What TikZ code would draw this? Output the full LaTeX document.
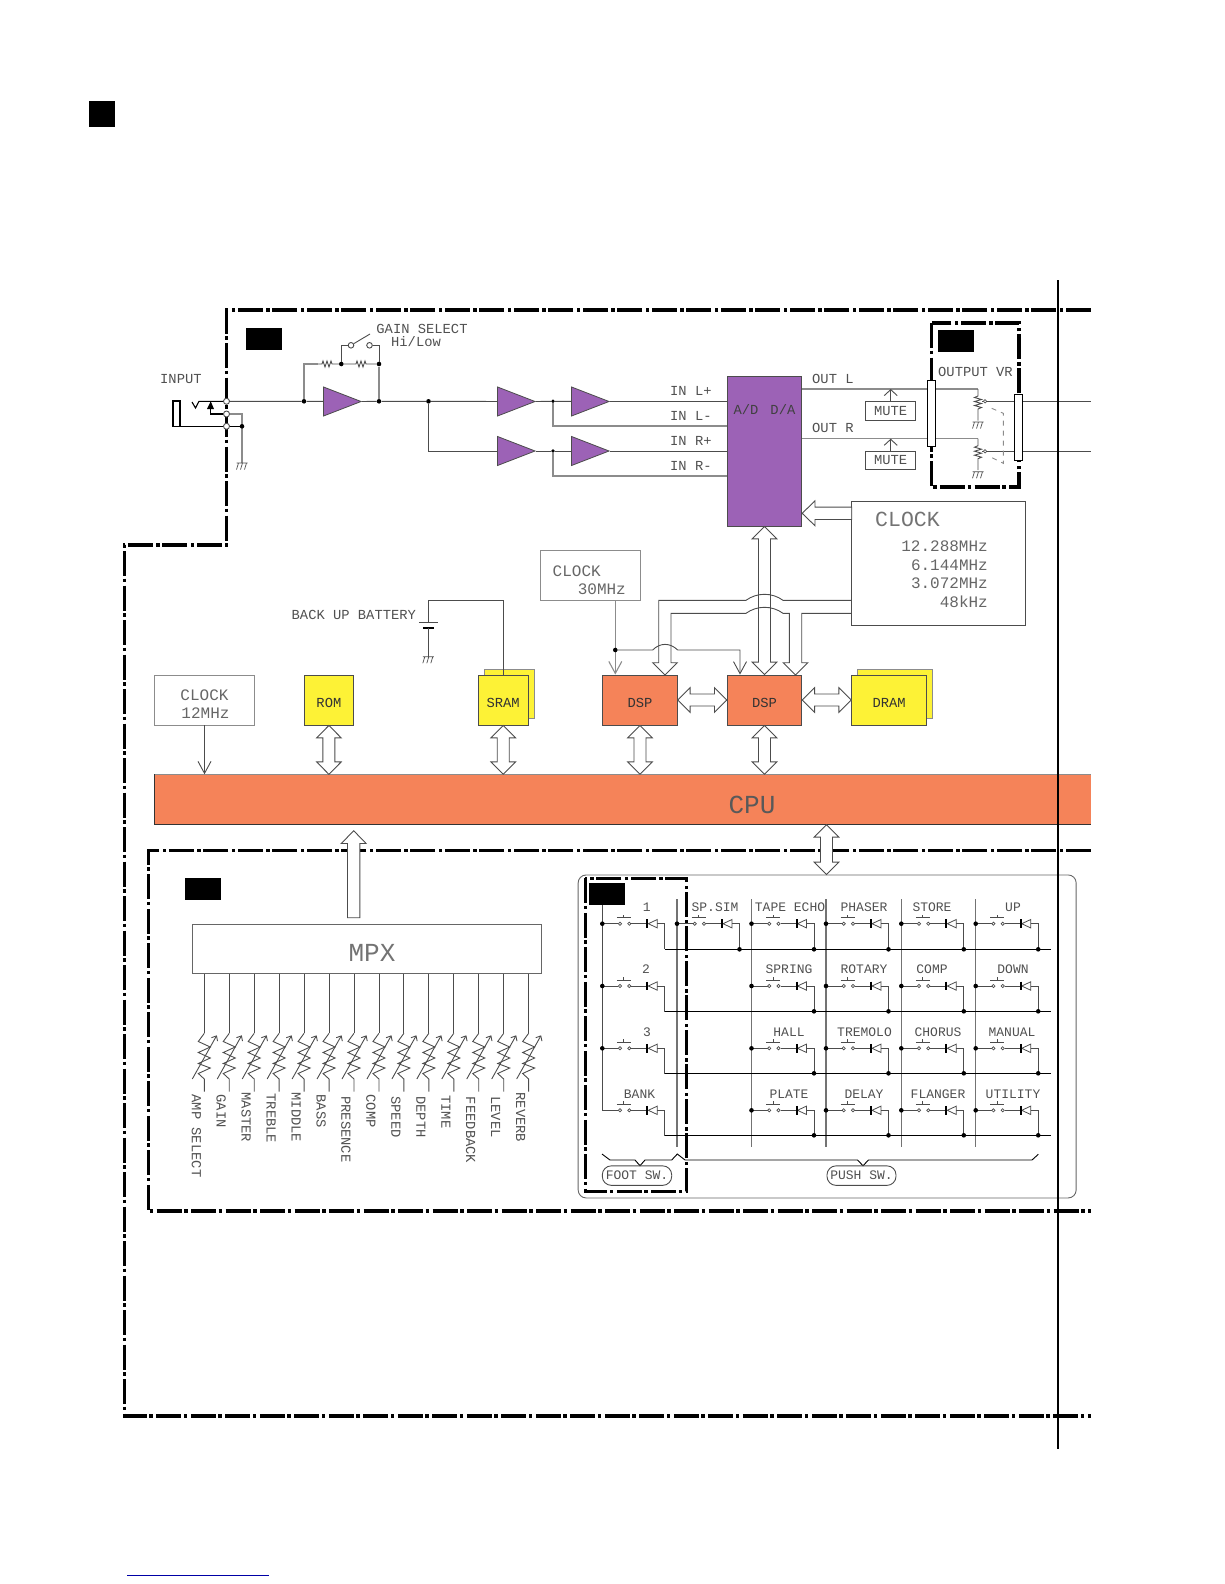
\documentclass[tikz,border=0pt]{standalone}
\usepackage{fontspec}
\setmainfont{Liberation Mono}
\usetikzlibrary{calc, positioning, arrows.meta, shapes.geometric}

\definecolor{amppurple}{HTML}{9C62B6}
\definecolor{dsporange}{HTML}{F58359}
\definecolor{memyellow}{HTML}{FDF236}
\definecolor{txtgray}{HTML}{505050}

\tikzset{
  wire/.style={draw=black!70, line width=0.9pt},
  wirepale/.style={draw=black!45, line width=1.1pt},
  wireblack/.style={draw=black, line width=1.1pt},
  busline/.style={draw=black!70, line width=0.9pt, line join=miter},
  framedash/.style={draw=black, line width=3.2pt, dash pattern=on 25pt off 2.5pt on 3.5pt off 3.5pt},
  lbl/.style={font=\fontsize{13.8}{14}\selectfont, text=txtgray, inner sep=0pt},
  lblmid/.style={font=\fontsize{16}{18}\selectfont, text=black!60, inner sep=0pt},
  lblbig/.style={font=\fontsize{26}{28}\selectfont, text=black!55, inner sep=0pt},
  swlbl/.style={font=\fontsize{13}{14}\selectfont, text=txtgray, inner sep=0pt},
  chip/.style={draw=black!70, line width=0.9pt, inner sep=0pt},
  blackbox/.style={fill=black, minimum width=36pt, minimum height=22pt, inner sep=0pt},
  amp/.style={isosceles triangle, isosceles triangle stretches, draw=black!70, fill=amppurple,
    line width=0.8pt, minimum width=29pt, minimum height=37.5pt, inner sep=0pt},
  jdot/.style={circle, fill=black, minimum size=4.6pt, inner sep=0pt},
  term/.style={circle, draw=black!70, fill=white, line width=0.9pt, minimum size=6pt, inner sep=0pt},
  smallterm/.style={circle, draw=black!70, fill=white, line width=0.7pt, minimum size=3.4pt, inner sep=0pt},
  thinhead/.style={-{Straight Barb[length=6pt, width=13pt]}},
  swtag/.style={draw=black!70, line width=0.9pt, rounded corners=9pt, inner sep=0pt,
    minimum height=19.5pt, font=\fontsize{13}{14}\selectfont, text=txtgray},
  pics/gndmark/.style={code={
    \draw[wire, line width=0.7pt] (-5.5,0) -- (5.5,0) (-3.5,0) -- (-5.5,6.5) (0.5,0) -- (-1.5,6.5) (4.5,0) -- (2.5,6.5);
  }},
  pics/swcell/.style={code={
    \draw[wire] (0,0) -- (16,0) (29,0) -- (45,0);
    \draw[wire] (55,0) -- (62.5,0) -- (62.5,#1);
    \draw[wire, line width=0.7pt] (14.5,-6) -- (28.5,-6) (21.5,-6) -- (21.5,-9);
    \draw[wire, line width=0.7pt, fill=white] (17.7,0) circle (1.6) (27,0) circle (1.6);
    \draw[wire, line width=0.8pt] (46,0) -- (55,-4.2) -- (55,4.2) -- cycle;
    \draw[black, line width=2pt] (45,-4.4) -- (45,4.4);
  }},
  pics/vrpot/.style={code={
    \draw[wire] (0,0) -- (0,7) -- (-3.5,8.5) -- (3.5,10.5) -- (-3.5,12.5) -- (3.5,14.5) -- (-3.5,16.5) -- (3.5,18.5) -- (0,20) -- (0,31.5);
    \path (0,33) pic {gndmark};
  }},
  pics/mpxpot/.style={code={
    \draw[wire] (0,0) -- (-6,8.2) -- (6,13.7) -- (-6,19.2) -- (6,24.7) -- (-6,30.2) -- (6,34.7) -- (-6,40.2) -- (0,45.7) -- (0,58.4);
    \draw[wire, -{Straight Barb[length=4pt, width=7pt]}] (-12,45.7) -- (12.5,2);
  }},
}

% hollow bus arrows, tail to tip
\newcommand{\dblbus}[2]{%
  \coordinate (ba) at #1; \coordinate (bb) at #2;
  \coordinate (ca) at ($(ba)!12.4pt!(bb)$); \coordinate (cb) at ($(bb)!12.4pt!(ba)$);
  \draw[busline, fill=white] (ba) -- ($(ca)!12.3pt!90:(bb)$) -- ($(ca)!6pt!90:(bb)$) -- ($(cb)!6pt!-90:(ba)$) -- ($(cb)!12.3pt!-90:(ba)$)
    -- (bb) -- ($(cb)!12.3pt!90:(ba)$) -- ($(cb)!6pt!90:(ba)$) -- ($(ca)!6pt!-90:(bb)$) -- ($(ca)!12.3pt!-90:(bb)$) -- cycle;}
\newcommand{\onebus}[2]{%
  \coordinate (ba) at #1; \coordinate (bb) at #2;
  \coordinate (cb) at ($(bb)!12.8pt!(ba)$);
  \draw[busline, fill=white] (ba) -- ($(ba)!6.2pt!90:(bb)$) -- ($(cb)!6.2pt!-90:(ba)$) -- ($(cb)!12.4pt!-90:(ba)$) -- (bb)
    -- ($(cb)!12.4pt!90:(ba)$) -- ($(cb)!6.2pt!90:(ba)$) -- ($(ba)!6.2pt!-90:(bb)$) -- cycle;}

\begin{document}
\begin{tikzpicture}[x=1pt, y=-1pt]
  \useasboundingbox (0,0) rectangle (1224,1584);

  % Corner mark and page rule
  \node[fill=black, minimum size=26.5pt, inner sep=0pt] (corner) at (102,114) {};
  \coordinate (rulea) at (127,1575);
  \coordinate (ruleb) at (269,1575);
  \draw[blue!65!black, line width=1pt] (rulea) -- (ruleb);

  % Dash-dot frames
  \draw[framedash] (1090.7,310) -- (226.7,310) -- (226.7,545) -- (124.3,545) -- (124.3,1416) -- (1090.7,1416);
  \draw[framedash] (1090.7,850.7) -- (148.3,850.7) -- (148.3,1211) -- (1090.7,1211);
  \draw[framedash] (931.7,323) rectangle (1019,487);

  % Black tags
  \node[blackbox] (tagin) at (264,339) {};
  \node[blackbox] (tagout) at (956,341) {};
  \node[blackbox] (tagmpx) at (203,889) {};

  % Input jack
  \node[term] (tipa) at (226.5,401.3) {};
  \node[term] (tipb) at (226.5,414) {};
  \node[term] (tipc) at (226.5,426.3) {};
  \node[lbl, anchor=west] (inputtxt) at (160,379) {INPUT};
  \coordinate (jackgnd) at (242,426.3);
  \coordinate (gndfoot) at (242,463);
  \draw[wireblack] (173,401) rectangle (180,426.3);
  \draw[wireblack] (180,426.3) -- (tipc);
  \draw[wireblack] (192,402) -- (195.5,408) -- (199,401.3) -- (tipa);
  \fill[black] (207,409) -- (214,409) -- (210.7,401.3) -- cycle;
  \draw[wireblack] (210.7,409) -- (210.7,414) -- (tipb);
  \draw[wirepale] (tipb) -- (242,414) -- (jackgnd) -- (gndfoot);
  \draw[wireblack] (tipc) -- (jackgnd);
  \node[jdot] at (jackgnd) {};
  \path (gndfoot) pic {gndmark};

  % Amplifiers
  \node[amp] (ampa) at (333.5,401.5) {};
  \node[amp] (ampb) at (507.5,401.5) {};
  \node[amp] (ampc) at (581.5,401.5) {};
  \node[amp] (ampd) at (507.5,451) {};
  \node[amp] (ampe) at (581.5,451) {};
  \node[jdot] (ja) at (304,401.3) {};
  \node[jdot] (jb) at (379,401.3) {};
  \node[jdot] (jc) at (428.5,401.3) {};
  \node[jdot, minimum size=3.8pt] (jd) at (553,401.3) {};
  \node[jdot, minimum size=3.8pt] (je) at (553,451) {};
  \node[jdot] (jf) at (341.3,364) {};
  \node[jdot] (jg) at (379,364) {};

  % A/D block
  \node[chip, fill=amppurple, minimum width=74.4pt, minimum height=149.3pt] (adda) at (764.5,451.3) {};
  \node[lbl, text=black!75, anchor=center] (addatxt) at (764.5,410) {A/D\hspace{12pt}D/A};

  % Signal wires
  \draw[wire] (tipa) -- (ja) -- (ampa);
  \draw[wire] (ampa.apex) -- (jb) -- (jc) -- (ampb);
  \draw[wire] (jc) |- (ampd);
  \draw[wire] (ampb.apex) -- (jd) -- (ampc);
  \draw[wire] (ampd.apex) -- (je) -- (ampe);
  \draw[wire] (ampc.apex) -- (adda.west |- ampc);
  \draw[wire] (ampe.apex) -- (adda.west |- ampe);
  \draw[wirepale] (jd) |- (adda.west |- 0,426);
  \draw[wirepale] (je) |- (adda.west |- 0,476);
  \draw[wirepale] (ja) |- (318,364);
  \draw[wire] (318,364) -- (322,364) -- (323,361) -- (325,367) -- (327,361) -- (329,367) -- (331,361) -- (332,364) -- (jf);
  \draw[wire] (jf) -- (356,364) -- (357,361) -- (359,367) -- (361,361) -- (363,367) -- (365,361) -- (366,364) -- (jg);
  \draw[wirepale] (jg) -- (jb);
  \node[term, minimum size=5.6pt] (swa) at (351,345.3) {};
  \node[term, minimum size=5.6pt] (swb) at (369.5,345.3) {};
  \draw[wire] (jf) |- (swa);
  \draw[wire] (swb) -| (jg);
  \draw[wire] (swa) -- (370,334);
  \node[lbl] (gaintxt) at (422,329) {GAIN SELECT};
  \node[lbl] (hilowtxt) at (416,342) {Hi/Low};

  \foreach \yy/\lab in {391/{IN L+}, 416/{IN L-}, 441/{IN R+}, 466/{IN R-}}
    \node[lbl, anchor=west] at (670,\yy) {\lab};

  % Output stage
  \node[lbl, anchor=west] (outl) at (812,379) {OUT L};
  \node[lbl, anchor=west] (outr) at (812,428) {OUT R};
  \node[chip, minimum width=50pt, minimum height=18.7pt] (mutel) at (890.7,410.7) {};
  \node[chip, minimum width=50pt, minimum height=18.7pt] (muter) at (890.7,460.4) {};
  \node[lbl] at (mutel) {MUTE};
  \node[lbl] at (muter) {MUTE};
  \node[lbl, anchor=west] (vrtxt) at (938,372) {OUTPUT\ VR};
  \coordinate (potl) at (978,389);
  \coordinate (potr) at (978,438.7);
  \coordinate (endl) at (1090.7,401.3);
  \coordinate (endr) at (1090.7,451.3);
  \draw[wirepale] (adda.east |- potl) -- (potl);
  \draw[wirepale] (adda.east |- potr) -- (potr);
  \path (potl) pic {vrpot};
  \path (potr) pic {vrpot};
  \draw[thinhead, wire] (mutel.north) -- (mutel.north |- potl);
  \draw[thinhead, wire] (muter.north) -- (muter.north |- potr);
  \node[smallterm] (wipl) at (985,401.3) {};
  \node[smallterm] (wipr) at (985,451.3) {};
  \draw[wire] (wipl) -- (endl);
  \draw[wire] (wipr) -- (endr);
  \draw[wire, line width=0.7pt] (wipl) -- (982,401.3);
  \draw[wire, line width=0.7pt] (wipr) -- (982,451.3);
  \draw[wirepale, line width=0.9pt, dash pattern=on 5pt off 5pt] (991.7,408.3) -- (1003.3,413.3) -- (1003.3,463.3) -- (990,456.7);
  \node[chip, draw=black, fill=white, minimum width=8.4pt, minimum height=66pt] (barl) at (931.5,413) {};
  \node[chip, draw=black, fill=white, minimum width=8.4pt, minimum height=66pt] (barr) at (1018.5,427) {};

  % Clocks
  \node[chip, minimum width=173.5pt, minimum height=124.5pt] (clka) at (938.4,563.3) {};
  \node[lbl, font=\fontsize{21.5}{24}\selectfont, text=black!55, anchor=west] (clkatxt) at (875,519) {CLOCK};
  \foreach \yy/\lab in {546/12.288MHz, 565/6.144MHz, 583.5/3.072MHz, 602/48kHz}
    \node[lblmid, anchor=east] at (988,\yy) {\lab};
  \node[chip, draw=black!45, minimum width=100pt, minimum height=49.6pt] (clkb) at (590.3,575.5) {};
  \node[lblmid, anchor=west] (clkbtxa) at (552.5,571) {CLOCK};
  \node[lblmid, anchor=east] (clkbtxb) at (626,589) {30MHz};
  \node[chip, draw=black!45, minimum width=100pt, minimum height=50pt] (clkc) at (204.5,700) {};
  \node[lblmid] (clkctxa) at (204.5,695) {CLOCK};
  \node[lblmid] (clkctxb) at (205.5,713) {12MHz};

  % Memory and DSP blocks
  \node[chip, fill=memyellow, minimum width=49.7pt, minimum height=50pt] (rom) at (328.9,700) {};
  \node[chip, draw=black!45, fill=memyellow, minimum width=50pt, minimum height=49.5pt] (sramback) at (509.5,693.8) {};
  \node[chip, fill=memyellow, minimum width=49.7pt, minimum height=50pt] (sram) at (503.2,700) {};
  \node[chip, draw=black!45, fill=memyellow, minimum width=75pt, minimum height=49.5pt] (dramback) at (895,693.8) {};
  \node[chip, fill=memyellow, minimum width=75pt, minimum height=50pt] (dram) at (889.2,700) {};
  \node[chip, fill=dsporange, minimum width=74.6pt, minimum height=50pt] (dspa) at (640,700) {};
  \node[chip, fill=dsporange, minimum width=74.4pt, minimum height=50pt] (dspb) at (764.5,700) {};
  \foreach \boxname/\lab in {rom/ROM, sram/SRAM, dram/DRAM, dspa/DSP, dspb/DSP}
    \node[lbl, text=black!80, yshift=-2.5pt] at (\boxname) {\lab};
  \node[fill=dsporange, minimum width=936pt, minimum height=50pt, inner sep=0pt, anchor=north west] (cpu) at (154.7,774.3) {};
  \draw[wirepale] (cpu.north west) -- (cpu.north east);
  \draw[wire, draw=black!80] (cpu.north west) -- (cpu.south west) -- (cpu.south east);
  \node[lblbig, text=black!65] (cputxt) at (752,804.5) {CPU};

  % Battery
  \node[lbl, anchor=west] (battxt) at (291.5,615) {BACK UP BATTERY};
  \coordinate (bata) at (428.3,622.3);
  \coordinate (batb) at (428.3,628.3);
  \coordinate (batc) at (428.3,656.7);
  \coordinate (battop) at (428.3,600.3);
  \draw[wire] (bata) -- (battop) -| (sram.north);
  \draw[wire] ($(bata)+(-9.5,0)$) -- ($(bata)+(9.5,0)$);
  \draw[black, line width=1.8pt] ($(batb)+(-5.5,0)$) -- ($(batb)+(5.5,0)$);
  \draw[wire] (batb) -- (batc);
  \path (batc) pic {gndmark};

  % Buses
  \dblbus{(adda.south)}{(dspb.north)}
  \draw[busline] (clka.west |- 0,600.3) -- (783,600.3) .. controls (772,592.3) and (757,592.3) .. (746,600.3)
    -- (658.7,600.3) -- (658.7,662.7) -- (652.7,662.7) -- (665,675) -- (677.3,662.7) -- (671,662.7) -- (671,613.3)
    -- (746,613.3) .. controls (757,605.3) and (772,605.3) .. (783,613.3) -- (789.3,613.3) -- (789.3,662.7) -- (783.3,662.7)
    -- (795.5,675) -- (807.7,662.7) -- (801.7,662.7) -- (801.7,613.3) -- (clka.west |- 0,613.3);
  \coordinate (clktip) at (851.7,513.3);
  \onebus{(clktip)}{(adda.east |- clktip)}
  \dblbus{(dspa.east)}{(dspb.west)}
  \dblbus{(dspb.east)}{(dram.west)}
  \dblbus{(rom.south)}{(rom.south |- cpu.north)}
  \dblbus{(sram.south)}{(sram.south |- cpu.north)}
  \dblbus{(dspa.south)}{(dspa.south |- cpu.north)}
  \dblbus{(dspb.south)}{(dspb.south |- cpu.north)}

  % 30 MHz clock feed
  \coordinate (feed) at (615.3,650);
  \draw[wirepale, -{Straight Barb[length=12pt, width=13pt]}] (clkb.south -| feed) -- (dspa.north -| feed);
  \node[jdot] (jfeed) at (feed) {};
  \draw[wire, -{Straight Barb[length=12pt, width=13pt]}] (jfeed) -- (652.7,650) .. controls (660,642.5) and (670,642.5) .. (677.7,650) -- (740,650) -- (dspb.north -| 740,0);
  \draw[wire, -{Straight Barb[length=12pt, width=13pt]}] (clkc.south) -- (clkc.south |- cpu.north);

  % Panel
  \node[draw=black!60, line width=0.9pt, rounded corners=8pt, minimum width=498pt, minimum height=323pt, anchor=north west, inner sep=0pt] (panel) at (577.7,874.5) {};
  \coordinate (panelbus) at (826.5,800);
  \dblbus{(cpu.south -| panelbus)}{(panel.north -| panelbus)}

  % MPX and pots
  \node[chip, draw=black!60, minimum width=348.4pt, minimum height=49.3pt, anchor=north west] (mpx) at (192.3,924) {};
  \node[lblbig] (mpxtxt) at (372,952.5) {MPX};
  \coordinate (mpxtail) at (353.7,917.7);
  \coordinate (mpxtip) at (353.7,830.7);
  \onebus{(mpxtail)}{(mpxtip)}
  \foreach \yy/\lab [count=\i from 0] in {1094.3/AMP SELECT, 1094.3/GAIN, 1092.3/MASTER, 1093.3/TREBLE, 1092.3/MIDDLE, 1094.3/BASS, 1096/PRESENCE, 1094.3/COMP, 1096/SPEED, 1096/DEPTH, 1095/TIME, 1096.7/FEEDBACK, 1096/LEVEL, 1092.3/REVERB} {
    \pgfmathsetmacro\xx{204.3+24.95*\i}
    \coordinate (potend\i) at (\xx,1033.3);
    \draw[wire] (mpx.south -| potend\i) -- (potend\i);
    \path (potend\i) pic {mpxpot};
    \node[lbl, rotate=-90, anchor=west] (pot\i) at (\xx-8,\yy) {\lab};
  }

  % Switch matrix
  \draw[framedash] (585.3,878.3) rectangle (686.7,1191.7);
  \node[blackbox] (tagsw) at (607,894) {};
  \draw[wire] (tagsw.south -| 602.3,0) -- (602.3,1110.3);
  \foreach \xx in {677, 751.5, 826, 901.3, 975.7}
    \draw[wirepale, draw=black!55] (\xx,899) -- (\xx,1147.3);
  \foreach \yy/\bb in {923.7/949.3, 986/1011.3, 1048.3/1073.3, 1110.3/1135.3} {
    \draw[wireblack] (664.8,\bb) -- (1051,\bb);
    \path (602.3,\yy) pic {swcell={25.5}};
    \foreach \xx in {751.5, 826, 901.3, 975.7} {
      \path (\xx,\yy) pic {swcell={25.5}};
      \node[jdot] at (\xx,\yy) {};
      \node[jdot] at (\xx+62.5,\bb) {};
    }
  }
  \path (677,923.7) pic {swcell={25.5}};
  \node[jdot] (jsp) at (677,923.7) {};
  \node[jdot] (jspb) at (739.5,949.3) {};
  \foreach \yy in {923.7, 986, 1048.3}
    \node[jdot] at (602.3,\yy) {};
  \foreach \xx/\yy/\lab in {646.7/907/1, 715/907/SP.SIM, 790/907/TAPE ECHO, 864/907/PHASER, 932/907/STORE, 1013/907/UP,
      646/969.6/2, 789/969.6/SPRING, 864/969.6/ROTARY, 932/969.6/COMP, 1013/969.6/DOWN,
      647/1032/3, 789/1032/HALL, 864.5/1032/TREMOLO, 938/1032/CHORUS, 1012/1032/MANUAL,
      639.5/1094/BANK, 789/1094/PLATE, 864/1094/DELAY, 938/1094/FLANGER, 1013/1094/UTILITY}
    \node[swlbl] at (\xx,\yy) {\lab};

  % Switch group marks
  \draw[wireblack, line width=0.9pt] (602,1154) -- (610,1160) -- (635,1160) -- (640,1165.7) -- (645,1160) -- (671.7,1160) -- (677.3,1154)
    -- (685,1160) -- (857.5,1160) -- (863,1165.7) -- (868.5,1160) -- (1032,1160) -- (1038.3,1154.3);
  \node[swtag, minimum width=69.4pt] (footsw) at (637,1175.6) {FOOT SW.};
  \node[swtag, minimum width=69pt] (pushsw) at (861.5,1175.6) {PUSH SW.};

  % Page line
  \coordinate (cuta) at (1058,280);
  \coordinate (cutb) at (1058,1449);
  \draw[black, line width=2pt] (cuta) -- (cutb);
\end{tikzpicture}
\end{document}
